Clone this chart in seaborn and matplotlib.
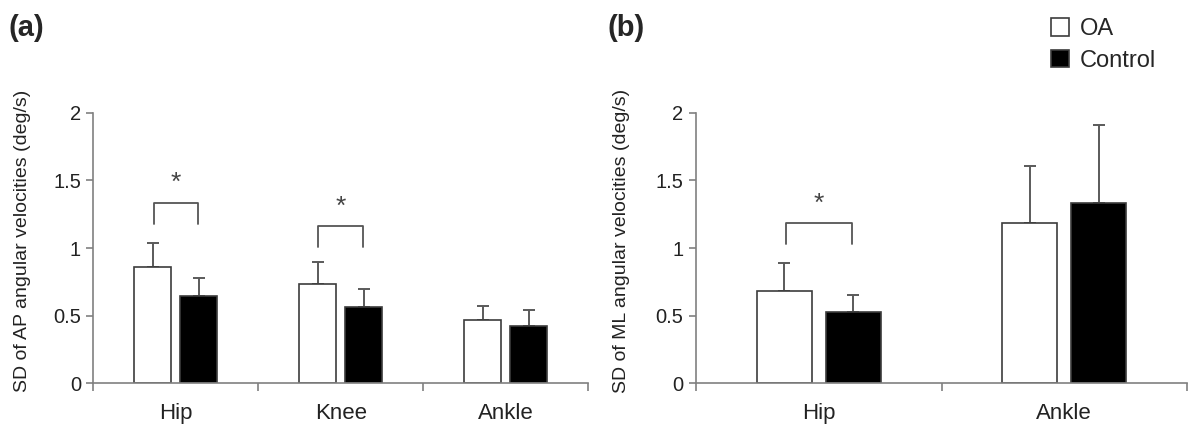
import pandas as pd
import numpy as np
import matplotlib
matplotlib.use("Agg")
import matplotlib.pyplot as plt
import seaborn as sns
from matplotlib.patches import Patch
from matplotlib.ticker import FixedLocator, NullFormatter

sns.set_style("white")
plt.rcParams['font.family'] = ['Liberation Sans', 'DejaVu Sans']

groups = ["OA", "Control"]

# panel (a): AP
joints_a = ["Hip", "Knee", "Ankle"]
oa_a = [0.862, 0.734, 0.468]
ctrl_a = [0.645, 0.566, 0.424]
oa_a_sd = [0.178, 0.16, 0.103]
ctrl_a_sd = [0.131, 0.129, 0.118]

# panel (b): ML
joints_b = ["Hip", "Ankle"]
oa_b = [0.685, 1.187]
ctrl_b = [0.525, 1.33]
oa_b_sd = [0.202, 0.421]
ctrl_b_sd = [0.125, 0.579]

# significance brackets: (category index, bracket top, leg bottom, star y)
sig_a = [(0, 1.335, 1.18, 1.478), (1, 1.163, 1.01, 1.305)]
sig_b = [(0, 1.183, 1.027, 1.325)]

edge = "#3c3c3c"
axcol = "#808080"


def draw(ax, joints, oa, ctrl, oa_sd, ctrl_sd, sig, ylabel, lx):
    df = pd.DataFrame({
        "joint": joints * 2,
        "value": oa + ctrl,
        "group": ["OA"] * len(joints) + ["Control"] * len(joints),
    })
    sns.barplot(data=df, x="joint", y="value", hue="group", order=joints,
                hue_order=groups, palette=["white", "black"], width=0.56,
                gap=0.2, edgecolor=edge, linewidth=1.2, errorbar=None,
                legend=False, ax=ax)
    sds = oa_sd + ctrl_sd
    vals = oa + ctrl
    for p, v, s in zip(ax.patches, vals, sds):
        xc = p.get_x() + p.get_width() / 2
        ax.errorbar(xc, v, yerr=[[0], [s]], fmt="none", ecolor="#5a5a5a",
                    elinewidth=1.4, capsize=4, capthick=1.4, zorder=0)
    for i, top, bot, sy in sig:
        x0, x1 = i - 0.135, i + 0.135
        ax.plot([x0, x0, x1, x1], [bot, top, top, bot], color="#555555", lw=1.3)
        ax.text(i, sy, "*", ha="center", va="center", fontsize=19, color="#444444")
    n = len(joints)
    ax.set_xlim(-0.5, n - 0.5)
    ax.set_ylim(0, 2)
    ax.set_yticks([0, 0.5, 1, 1.5, 2])
    ax.set_yticklabels(["0", "0.5", "1", "1.5", "2"])
    ax.xaxis.set_minor_locator(FixedLocator(np.arange(-0.5, n, 1.0)))
    ax.xaxis.set_minor_formatter(NullFormatter())
    ax.tick_params(axis="x", which="major", length=0, labelsize=16, pad=14, colors="#222222")
    ax.tick_params(axis="x", which="minor", length=6, width=1.2, color=axcol, direction="out", bottom=True)
    ax.tick_params(axis="y", length=5, width=1.2, labelsize=14.5, left=True, colors="#222222", pad=4)
    ax.tick_params(axis="y", color=axcol)
    for sp in ["top", "right"]:
        ax.spines[sp].set_visible(False)
    for sp in ["left", "bottom"]:
        ax.spines[sp].set_color(axcol)
        ax.spines[sp].set_linewidth(1.2)
    ax.set_xlabel("")
    ax.set_ylabel(ylabel, fontsize=14, color="#222222")
    ax.yaxis.set_label_coords(lx, 0.525)


fig = plt.figure(figsize=(11.92, 4.30), dpi=100)
ax1 = fig.add_axes([0.0784, 0.1086, 0.4149, 0.6293])
ax2 = fig.add_axes([0.5839, 0.1086, 0.4119, 0.6293])

draw(ax1, joints_a, oa_a, ctrl_a, oa_a_sd, ctrl_a_sd, sig_a,
     "SD of AP angular velocities (deg/s)", -0.127)
draw(ax2, joints_b, oa_b, ctrl_b, oa_b_sd, ctrl_b_sd, sig_b,
     "SD of ML angular velocities (deg/s)", -0.134)

fig.text(0.007, 0.935, "(a)", fontsize=21, fontweight="bold", va="center")
fig.text(0.510, 0.935, "(b)", fontsize=21, fontweight="bold", va="center")

handles = [Patch(facecolor="white", edgecolor=edge, linewidth=1.2),
           Patch(facecolor="black", edgecolor=edge, linewidth=1.2)]
fig.legend(handles, groups, loc="upper left", bbox_to_anchor=(0.8817, 0.958),
           frameon=False, fontsize=17, handlelength=0.76, handleheight=0.76,
           handletextpad=0.47, labelspacing=0.41, borderaxespad=0, borderpad=0)

fig.savefig("out.png", dpi=100)
